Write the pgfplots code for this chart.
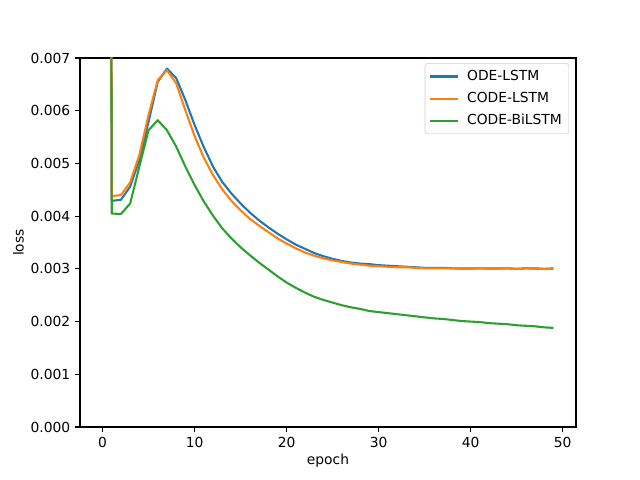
\documentclass[border=0pt]{standalone}
\usepackage{pgfplots}
\pgfplotsset{compat=1.18}
\usepackage{fontspec}
\setmainfont{DejaVu Sans}
\definecolor{c0}{HTML}{1F77B4}
\definecolor{c1}{HTML}{FF7F0E}
\definecolor{c2}{HTML}{2CA02C}
\begin{document}
\begin{tikzpicture}[x=1in,y=1in]
\path[use as bounding box] (0,0) rectangle (6.4,4.8);
\begin{axis}[
  at={(0.80in,0.53in)}, anchor=south west,
  scale only axis, width=4.96in, height=3.69in,
  xmin=-2.45, xmax=51.45, ymin=0, ymax=0.007,
  xtick={0,10,20,30,40,50},
  ytick={0,0.001,0.002,0.003,0.004,0.005,0.006,0.007},
  scaled y ticks=false,
  yticklabel style={/pgf/number format/.cd, fixed, fixed zerofill, precision=3},
  /pgf/number format/assume math mode=true,
  tick align=outside, major tick length=3.5pt,
  tick style={black, line width=0.8pt},
  axis line style={line width=0.8pt},
  xtick pos=bottom, ytick pos=left,
  font=\fontsize{10pt}{12pt}\selectfont,
  ticklabel style={font=\fontsize{10pt}{12pt}\selectfont},
  xlabel={epoch}, ylabel={loss},
  xlabel style={yshift=2pt},
  ylabel style={yshift=-2pt},
  legend cell align=left,
  legend style={at={(0.986,0.986)}, anchor=north east, draw=black!20, rounded corners=2pt,
    font=\fontsize{10pt}{12pt}\selectfont, inner xsep=3pt, inner ysep=3pt, row sep=3pt},
  legend image code/.code={\draw[#1] (0pt,0pt) -- (20pt,0pt); \path (24pt,0pt);},
  every axis plot/.append style={line width=1.5pt, line join=round},
]
\addplot[c0] table {
0 0.08
1 0.00429
2 0.00431
3 0.00456
4 0.00507
5 0.00579
6 0.00655
7 0.00680
8 0.00662
9 0.00620
10 0.00573
11 0.00531
12 0.00494
13 0.00465
14 0.00443
15 0.00424
16 0.00407
17 0.00392
18 0.00379
19 0.00367
20 0.00356
21 0.00346
22 0.00338
23 0.00330
24 0.00324
25 0.00319
26 0.00315
27 0.00312
28 0.00310
29 0.00309
30 0.00307
31 0.00306
32 0.00305
33 0.00304
34 0.00303
35 0.00302
36 0.00302
37 0.00302
38 0.00301
39 0.00301
40 0.00301
41 0.00301
42 0.00301
43 0.00301
44 0.00301
45 0.00300
46 0.00301
47 0.00301
48 0.00300
49 0.00301
};
\addlegendentry{ODE-LSTM}
\addplot[c1] table {
0 0.08
1 0.00438
2 0.00440
3 0.00464
4 0.00516
5 0.00592
6 0.00658
7 0.00677
8 0.00652
9 0.00601
10 0.00552
11 0.00511
12 0.00478
13 0.00451
14 0.00429
15 0.00411
16 0.00395
17 0.00382
18 0.00370
19 0.00358
20 0.00348
21 0.00339
22 0.00331
23 0.00325
24 0.00320
25 0.00316
26 0.00313
27 0.00310
28 0.00308
29 0.00306
30 0.00305
31 0.00304
32 0.00303
33 0.00303
34 0.00302
35 0.00301
36 0.00301
37 0.00301
38 0.00301
39 0.00300
40 0.00300
41 0.00301
42 0.00300
43 0.00300
44 0.00301
45 0.00300
46 0.00301
47 0.00300
48 0.00300
49 0.00300
};
\addlegendentry{CODE-LSTM}
\addplot[c2] table {
0 0.08
1 0.00405
2 0.00404
3 0.00424
4 0.00494
5 0.00563
6 0.00582
7 0.00563
8 0.00532
9 0.00494
10 0.00459
11 0.00428
12 0.00401
13 0.00377
14 0.00358
15 0.00341
16 0.00326
17 0.00312
18 0.00299
19 0.00286
20 0.00274
21 0.00264
22 0.00255
23 0.00247
24 0.00241
25 0.00236
26 0.00231
27 0.00227
28 0.00224
29 0.00220
30 0.00218
31 0.00216
32 0.00214
33 0.00212
34 0.00210
35 0.00208
36 0.00206
37 0.00205
38 0.00203
39 0.00201
40 0.00200
41 0.00199
42 0.00197
43 0.00196
44 0.00195
45 0.00193
46 0.00192
47 0.00191
48 0.00189
49 0.00188
};
\addlegendentry{CODE-BiLSTM}
\end{axis}
\end{tikzpicture}
\end{document}
